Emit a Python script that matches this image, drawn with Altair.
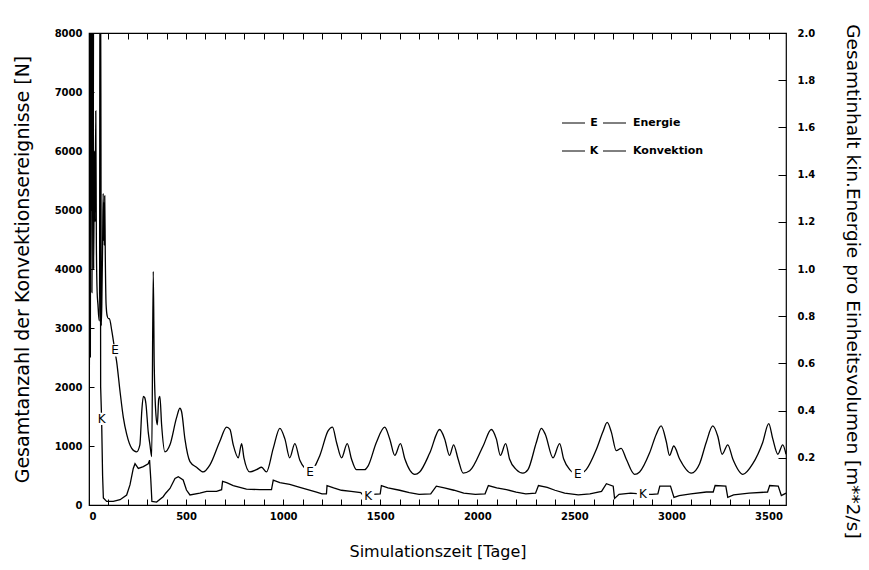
import altair as alt
import pandas as pd

# --- Kinetic energy per unit volume (right axis, m**2/s) ---
e_days = [0, 3, 6, 9, 12, 15, 18, 21, 24, 28, 31, 35, 38, 42, 46, 50, 54, 57, 60, 63,
          66, 70, 73, 75, 77, 79, 81, 84, 88, 94, 100, 105, 117, 134, 142, 160, 177, 194,
          220, 245, 262, 272, 280, 287, 293, 305, 314, 323, 331, 336, 345, 352, 359, 365,
          374, 391, 417, 451, 468, 477, 494, 520, 554, 588, 623, 674, 709, 726, 743, 769,
          786, 798, 829, 863, 889, 914, 949, 983, 1009, 1034, 1060, 1086, 1112, 1137,
          1189, 1232, 1254, 1275, 1301, 1330, 1352, 1377, 1420, 1437, 1480, 1523, 1549,
          1575, 1604, 1627, 1678, 1703, 1755, 1806, 1832, 1857, 1878, 1901, 1927, 1961,
          2030, 2072, 2098, 2119, 2146, 2166, 2201, 2235, 2261, 2304, 2330, 2350, 2390,
          2424, 2445, 2476, 2518, 2561, 2613, 2647, 2669, 2690, 2716, 2741, 2767, 2810,
          2836, 2887, 2922, 2947, 2973, 2990, 3012, 3042, 3102, 3145, 3179, 3213, 3239,
          3261, 3290, 3316, 3368, 3419, 3470, 3501, 3522, 3548, 3573, 3590]
e_values = [0.30, 0.75, 2.3, 1.3, 2.3, 0.9, 1.4, 2.3, 1.0, 1.5, 1.2, 1.67, 1.1, 0.9, 0.85,
            0.8, 0.78, 2.3, 2.3, 0.76, 0.85, 1.1, 1.32, 1.12, 1.28, 1.10, 1.31, 1.05, 0.85,
            0.80, 0.79, 0.79, 0.74, 0.65, 0.61, 0.48, 0.37, 0.30, 0.24, 0.225, 0.255, 0.40,
            0.46, 0.455, 0.43, 0.31, 0.255, 0.205, 0.99, 0.59, 0.38, 0.34, 0.45, 0.46, 0.34,
            0.225, 0.255, 0.37, 0.41, 0.395, 0.28, 0.184, 0.16, 0.14, 0.17, 0.27, 0.33, 0.32,
            0.255, 0.20, 0.26, 0.20, 0.14, 0.15, 0.16, 0.14, 0.24, 0.325, 0.28, 0.20, 0.26,
            0.19, 0.155, 0.14, 0.21, 0.315, 0.33, 0.265, 0.20, 0.26, 0.195, 0.15, 0.15,
            0.165, 0.265, 0.33, 0.28, 0.21, 0.26, 0.195, 0.13, 0.14, 0.22, 0.32, 0.28, 0.21,
            0.255, 0.195, 0.135, 0.145, 0.25, 0.32, 0.28, 0.21, 0.26, 0.195, 0.15, 0.135,
            0.15, 0.265, 0.325, 0.30, 0.20, 0.26, 0.195, 0.15, 0.13, 0.15, 0.235, 0.31, 0.35,
            0.31, 0.23, 0.24, 0.195, 0.13, 0.14, 0.22, 0.30, 0.335, 0.27, 0.21, 0.25, 0.195,
            0.135, 0.175, 0.265, 0.335, 0.29, 0.215, 0.255, 0.195, 0.13, 0.175, 0.265, 0.345,
            0.28, 0.215, 0.255, 0.215]

# --- Number of convection events (left axis, N) ---
k_days = [0, 2, 4, 7, 10, 13, 17, 21, 25, 30, 40, 50, 57, 60, 65, 70, 74, 91, 125, 160,
          194, 211, 228, 237, 254, 280, 305, 312, 318, 324, 348, 382, 395, 417, 443, 460,
          485, 502, 520, 571, 606, 657, 683, 688, 709, 743, 777, 811, 880, 940, 949, 983,
          1034, 1086, 1172, 1200, 1223, 1226, 1260, 1300, 1350, 1400, 1420, 1438, 1460,
          1500, 1506, 1540, 1600, 1650, 1700, 1760, 1789, 1830, 1880, 1930, 1990, 2040,
          2057, 2100, 2150, 2200, 2250, 2300, 2315, 2360, 2400, 2450, 2520, 2580, 2640,
          2665, 2700, 2707, 2730, 2790, 2853, 2900, 2930, 2940, 2995, 3013, 3040, 3100,
          3180, 3215, 3225, 3280, 3290, 3320, 3400, 3495, 3506, 3550, 3566, 3590]
k_values = [0, 3500, 12000, 2500, 12000, 5000, 12000, 4000, 12000, 12000, 12000, 12000,
            12000, 2000, 1450, 500, 120, 60, 60, 90, 170, 340, 620, 700, 620, 650, 700, 760,
            450, 60, 50, 140, 200, 280, 450, 480, 424, 254, 170, 200, 230, 230, 260, 400,
            380, 330, 300, 270, 260, 260, 420, 380, 350, 300, 220, 190, 190, 330, 290, 250,
            230, 210, 130, 150, 180, 190, 330, 290, 250, 210, 180, 190, 320, 290, 250, 200,
            180, 190, 330, 290, 260, 220, 190, 200, 330, 300, 250, 200, 170, 190, 230, 360,
            320, 110, 180, 200, 185, 180, 190, 320, 320, 130, 160, 190, 220, 220, 330, 320,
            130, 170, 200, 220, 330, 320, 160, 200]

# Inline curve labels
e_label_days = [134, 1139, 2518]
e_label_values = [0.655, 0.14, 0.131]
k_label_days = [65, 1438, 2853]
k_label_values = [1460, 158, 186]

# Axis tick positions (every 100 days on the time axis, labelled every 500)
x_tick_values = [0, 100, 200, 300, 400, 500, 600, 700, 800, 900, 1000, 1100, 1200,
                 1300, 1400, 1500, 1600, 1700, 1800, 1900, 2000, 2100, 2200, 2300, 2400,
                 2500, 2600, 2700, 2800, 2900, 3000, 3100, 3200, 3300, 3400, 3500]
n_label_values = [0, 1000, 2000, 3000, 4000, 5000, 6000, 7000, 8000]
e_label_ticks = [0.2, 0.4, 0.6, 0.8, 1.0, 1.2, 1.4, 1.6, 1.8, 2.0]

W, H = 697, 472
FONT = "DejaVu Sans"

e_df = pd.DataFrame({"day": e_days, "energy": e_values})
k_df = pd.DataFrame({"day": k_days, "count": k_values})
e_lab = pd.DataFrame({"day": e_label_days, "energy": e_label_values, "t": ["E"] * 3})
k_lab = pd.DataFrame({"day": k_label_days, "count": k_label_values, "t": ["K"] * 3})

x_scale = alt.Scale(domain=[0, 3590], nice=False)
n_scale = alt.Scale(domain=[0, 8000], nice=False)
en_scale = alt.Scale(domain=[0, 2.0], nice=False)

x_plain = alt.X("day:Q", scale=x_scale, axis=None)

# Inward ticks come from dashed grid lines: a short dash at the axis side
# (and, for the time axis, a matching dash at the top edge of the frame).
k_line = alt.Chart(k_df).mark_line(clip=True, color="black", strokeWidth=1.3).encode(
    x=alt.X("day:Q", scale=x_scale, axis=alt.Axis(
        values=x_tick_values, format="d",
        labelExpr="datum.value % 500 === 0 ? datum.label : ''",
        title="Simulationszeit [Tage]",
        ticks=False, domain=False, labelPadding=6,
        grid=True, gridColor="black", gridOpacity=1, gridWidth=1,
        gridDash=[6, H - 12, 6],
        titleX=W / 2, titleY=46, titleBaseline="middle", titleFontSize=16)),
    y=alt.Y("count:Q", scale=n_scale, axis=alt.Axis(
        values=n_label_values, format="d",
        title="Gesamtanzahl der Konvektionsereignisse [N]",
        ticks=False, domain=False, labelPadding=7,
        grid=True, gridColor="black", gridOpacity=1, gridWidth=1,
        gridDash=[5, 2 * W],
        titleAngle=270, titleX=-67, titleY=H / 2, titleBaseline="middle",
        titleAlign="center", titleFontSize=19)),
)

e_line = alt.Chart(e_df).mark_line(clip=True, color="black", strokeWidth=1.3,
                                   interpolate="monotone").encode(
    x=x_plain,
    y=alt.Y("energy:Q", scale=en_scale, axis=alt.Axis(
        orient="right", values=e_label_ticks, format=".1f",
        title="Gesamtinhalt kin.Energie pro Einheitsvolumen [m**2/s]",
        ticks=False, domain=False, labelPadding=11,
        grid=True, gridColor="black", gridOpacity=1, gridWidth=1,
        gridDash=[8, 2 * W],
        titleAngle=90, titleX=66, titleY=248, titleBaseline="middle",
        titleAlign="center", titleFontSize=18.5)),
)

# Curve labels with a white patch behind them
e_patch = alt.Chart(e_lab).mark_square(size=150, color="white", opacity=1).encode(
    x=x_plain, y=alt.Y("energy:Q", scale=en_scale, axis=None))
k_patch = alt.Chart(k_lab).mark_square(size=150, color="white", opacity=1).encode(
    x=x_plain, y=alt.Y("count:Q", scale=n_scale, axis=None))
e_text = alt.Chart(e_lab).mark_text(font=FONT, fontSize=12, color="black").encode(
    x=x_plain, y=alt.Y("energy:Q", scale=en_scale, axis=None), text="t:N")
k_text = alt.Chart(k_lab).mark_text(font=FONT, fontSize=12, color="black").encode(
    x=x_plain, y=alt.Y("count:Q", scale=n_scale, axis=None), text="t:N")


# Key in the upper right
def key_row(letter, name, y):
    one = pd.DataFrame({"t": [letter], "n": [name]})
    d1 = alt.Chart(one).mark_rule(color="black", strokeWidth=1).encode(
        x=alt.value(473), x2=alt.value(496), y=alt.value(y), y2=alt.value(y))
    d2 = alt.Chart(one).mark_rule(color="black", strokeWidth=1).encode(
        x=alt.value(514), x2=alt.value(537), y=alt.value(y), y2=alt.value(y))
    lt = alt.Chart(one).mark_text(font=FONT, fontSize=11, fontWeight="bold",
                                  color="black").encode(
        x=alt.value(505), y=alt.value(y), text="t:N")
    nt = alt.Chart(one).mark_text(font=FONT, fontSize=11, fontWeight="bold",
                                  color="black", align="left").encode(
        x=alt.value(544), y=alt.value(y), text="n:N")
    return [d1, d2, lt, nt]


layers = [k_line, e_line, e_patch, k_patch, e_text, k_text]
layers += key_row("E", "Energie", 90) + key_row("K", "Konvektion", 118)

chart = alt.layer(*layers).resolve_scale(y="independent").resolve_axis(
    x="independent", y="independent").properties(
    width=W, height=H,
    autosize=alt.AutoSizeParams(type="none"),
    padding={"left": 89, "top": 33, "right": 83, "bottom": 65},
    background="white",
).configure_view(stroke="black", strokeWidth=1.2).configure_axis(
    labelFont=FONT, labelFontWeight="bold", labelFontSize=10, labelColor="black",
    titleFont=FONT, titleFontWeight="normal", titleColor="black",
)

chart.save("out.html", embed_options={"renderer": "svg", "actions": False})
